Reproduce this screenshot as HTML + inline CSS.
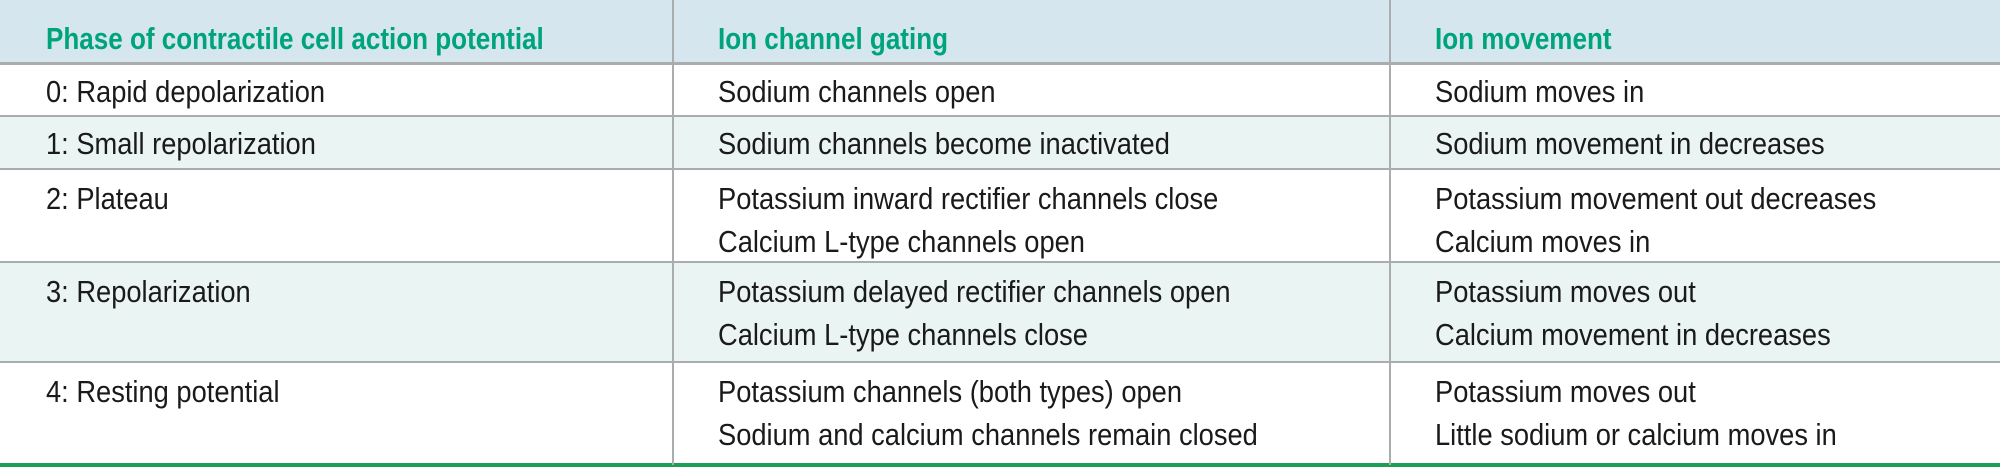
<!DOCTYPE html>
<html><head><meta charset="utf-8"><style>
html,body{margin:0;padding:0}
body{width:2000px;height:470px;position:relative;overflow:hidden;background:#fff;font-family:"Liberation Sans",sans-serif}
.bg{position:absolute;left:0;width:2000px}
.h{position:absolute;left:0;width:2000px;height:2px;background:#a9adb0}
.v{position:absolute;width:2px;background:#a9adb0;top:0;height:465px}
.t{position:absolute;font-size:31px;color:#1a1a1a;white-space:nowrap;line-height:30px;transform:scaleX(0.88);transform-origin:0 0}
.hd{font-weight:bold;color:#00a47c;font-size:31px;transform:scaleX(0.84)}
</style></head><body>
<div class="bg" style="top:0;height:63px;background:#d5e6ef"></div>
<div class="bg" style="top:116px;height:53px;background:#eaf4f2"></div>
<div class="bg" style="top:262px;height:100px;background:#eaf4f2"></div>
<div class="h" style="top:62px;height:3px"></div>
<div class="h" style="top:115px"></div>
<div class="h" style="top:168px"></div>
<div class="h" style="top:261px"></div>
<div class="h" style="top:361px"></div>
<div class="bg" style="top:463px;height:4px;background:#1d9e55"></div>
<div class="v" style="left:672px"></div>
<div class="v" style="left:1389px"></div>

<div class="t hd" style="left:46px;top:24px">Phase of contractile cell action potential</div>
<div class="t hd" style="left:718px;top:24px">Ion channel gating</div>
<div class="t hd" style="left:1435px;top:24px">Ion movement</div>

<div class="t" style="left:46px;top:77px">0: Rapid depolarization</div>
<div class="t" style="left:718px;top:77px">Sodium channels open</div>
<div class="t" style="left:1435px;top:77px">Sodium moves in</div>

<div class="t" style="left:46px;top:129px">1: Small repolarization</div>
<div class="t" style="left:718px;top:129px">Sodium channels become inactivated</div>
<div class="t" style="left:1435px;top:129px">Sodium movement in decreases</div>

<div class="t" style="left:46px;top:184px">2: Plateau</div>
<div class="t" style="left:718px;top:184px">Potassium inward rectifier channels close</div>
<div class="t" style="left:718px;top:227px">Calcium L-type channels open</div>
<div class="t" style="left:1435px;top:184px">Potassium movement out decreases</div>
<div class="t" style="left:1435px;top:227px">Calcium moves in</div>

<div class="t" style="left:46px;top:277px">3: Repolarization</div>
<div class="t" style="left:718px;top:277px">Potassium delayed rectifier channels open</div>
<div class="t" style="left:718px;top:320px">Calcium L-type channels close</div>
<div class="t" style="left:1435px;top:277px">Potassium moves out</div>
<div class="t" style="left:1435px;top:320px">Calcium movement in decreases</div>

<div class="t" style="left:46px;top:377px">4: Resting potential</div>
<div class="t" style="left:718px;top:377px">Potassium channels (both types) open</div>
<div class="t" style="left:718px;top:420px">Sodium and calcium channels remain closed</div>
<div class="t" style="left:1435px;top:377px">Potassium moves out</div>
<div class="t" style="left:1435px;top:420px">Little sodium or calcium moves in</div>
</body></html>
